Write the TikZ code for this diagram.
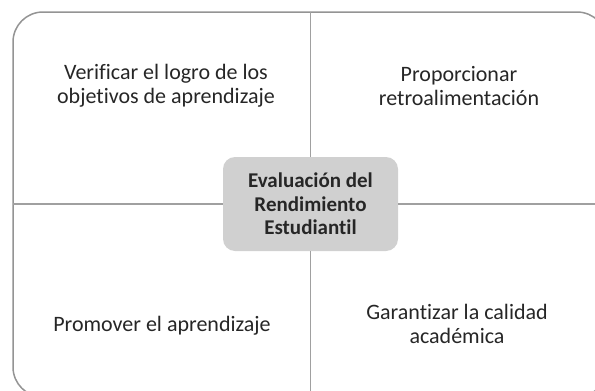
\documentclass[tikz,border=0pt]{standalone}
\usepackage{fontspec}
\setmainfont[Ligatures=NoCommon]{Carlito}
\definecolor{txt}{HTML}{262626}
\definecolor{hubfill}{HTML}{D0D0D0}
\definecolor{linegray}{HTML}{A0A0A0}
\definecolor{boxgray}{HTML}{949494}
\begin{document}
\begin{tikzpicture}[x=1pt,y=-1pt,
  quad/.style={align=center, inner sep=0pt, font=\fontsize{22}{24.2}\selectfont, text=txt},
  hub/.style={fill=hubfill, rounded corners=12pt, minimum width=175pt, minimum height=94pt,
    align=center, inner sep=0pt, font=\fontsize{21}{23.5}\selectfont\bfseries, text=txt},
  divider/.style={draw=linegray, line width=1.6pt},
  frame/.style={draw=boxgray, line width=1.5pt, rounded corners=30pt}]
\useasboundingbox (0,0) rectangle (595,391);
\clip (0,0) rectangle (595,391);
\draw[frame] (13,12) rectangle (607,397);
\coordinate (T) at (310.5,12);
\coordinate (B) at (310.5,397);
\coordinate (L) at (13,204);
\coordinate (R) at (607,204);
\node[hub] (hub) at (310.5,204) {Evaluación del\\Rendimiento\\Estudiantil};
\draw[divider] (T) -- (hub.north);
\draw[divider] (hub.south) -- (B);
\draw[divider] (L) -- (hub.west);
\draw[divider] (hub.east) -- (R);
\node[quad] (tl) at (166,86) {Verificar el logro de los\\objetivos de aprendizaje};
\node[quad] (tr) at (459,86) {Proporcionar\\retroalimentación};
\node[quad] (bl) at (162,326) {Promover el aprendizaje};
\node[quad] (br) at (457,324) {Garantizar la calidad\\académica};
\end{tikzpicture}
\end{document}
